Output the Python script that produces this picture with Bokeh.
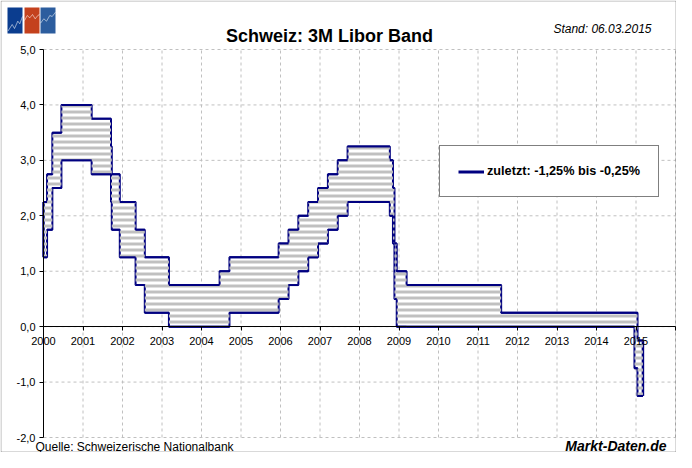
import pandas as pd
from bokeh.plotting import figure
from bokeh.models import (FixedTicker, Label, BoxAnnotation, PolyAnnotation, Legend,
                          LegendItem, Range1d, LinearAxis, ColumnDataSource)
from bokeh.embed import file_html
from bokeh.resources import INLINE

# ---------------- data ----------------
change_dates = ["2000-01-01", "2000-02-03", "2000-03-23", "2000-06-15", "2001-03-22",
                "2001-09-17", "2001-09-24", "2001-12-07", "2002-05-02", "2002-07-26",
                "2003-03-06", "2004-06-17", "2004-09-16", "2005-12-15", "2006-03-16",
                "2006-06-15", "2006-09-14", "2006-12-14", "2007-03-15", "2007-06-14",
                "2007-09-13", "2008-10-08", "2008-11-06", "2008-11-20", "2008-12-11",
                "2009-03-12", "2011-08-03", "2014-12-18", "2015-01-15", "2015-03-06"]
lower = [1.25, 1.75, 2.50, 3.00, 2.75, 2.25, 1.75, 1.25, 0.75, 0.25,
         0.00, 0.00, 0.25, 0.50, 0.75, 1.00, 1.25, 1.50, 1.75, 2.00,
         2.25, 2.00, 1.50, 0.50, 0.00, 0.00, 0.00, -0.75, -1.25, -1.25]
upper = [2.25, 2.75, 3.50, 4.00, 3.75, 3.25, 2.75, 2.25, 1.75, 1.25,
         0.75, 1.00, 1.25, 1.50, 1.75, 2.00, 2.25, 2.50, 2.75, 3.00,
         3.25, 3.00, 2.50, 1.50, 1.00, 0.75, 0.25, 0.25, -0.25, -0.25]

x_ticks = list(range(2000, 2017))
x_labels = [str(y) for y in range(2000, 2016)] + [""]
y_ticks = [-2, -1, 0, 1, 2, 3, 4, 5]
y_labels = ["-2,0", "-1,0", "0,0", "1,0", "2,0", "3,0", "4,0", "5,0"]

title_text = "Schweiz: 3M Libor Band"
stand_text = "Stand: 06.03.2015"
source_text = "Quelle: Schweizerische Nationalbank"
brand_text = "Markt-Daten.de"
legend_text = "zuletzt: -1,25% bis -0,25%"

NAVY = "#000080"
GREY = "#C0C0C0"
FONT = "Liberation Sans"

# ---------------- layout (pixels) ----------------
W, H = 676, 452
PX_L, PX_R = 43, 675      # x pixel of first / last x tick
PY_T, PY_B = 49, 437      # y pixel of top / bottom y tick
X0, X1 = x_ticks[0], x_ticks[-1]
Y0, Y1 = y_ticks[0], y_ticks[-1]
kx = (PX_R - PX_L) / (X1 - X0)
ky = (PY_B - PY_T) / (Y1 - Y0)
x_range = Range1d(X0 - PX_L / kx, X1 + (W - PX_R) / kx)
y_range = Range1d(Y0 - (H - PY_B) / ky, Y1 + PY_T / ky)


def decyear(s):
    d = pd.Timestamp(s)
    n = 366 if d.is_leap_year else 365
    return d.year + (d.dayofyear - 1) / n


xs = [decyear(s) for s in change_dates]
src = ColumnDataSource(dict(x=xs, lo=lower, up=upper))

p = figure(width=W, height=H, x_range=x_range, y_range=y_range,
           output_backend="svg", toolbar_location=None, min_border=0,
           x_axis_location=None, y_axis_location=None)
p.background_fill_color = "white"
p.border_fill_color = "white"
p.outline_line_color = None
for g in p.grid:
    g.visible = False

# grid lines (dashed), limited to the plot area
p.segment(x0=x_ticks[1:], x1=x_ticks[1:], y0=Y0, y1=Y1,
          line_color=GREY, line_dash="3 3", line_width=1)
p.segment(x0=X0, x1=X1, y0=y_ticks, y1=y_ticks,
          line_color=GREY, line_dash="3 3", line_width=1)


def style_axis(ax):
    ax.minor_tick_line_color = None
    ax.major_tick_in = 0
    ax.major_tick_out = 4
    ax.axis_line_color = "black"
    ax.major_tick_line_color = "black"
    ax.major_label_text_font = FONT
    ax.major_label_text_font_size = "11px"
    ax.major_label_text_color = "black"


ya = LinearAxis(fixed_location=X0, bounds=(Y0, Y1), ticker=FixedTicker(ticks=y_ticks),
                major_label_overrides=dict(zip(y_ticks, y_labels)))
style_axis(ya)
ya.major_label_standoff = 4
p.add_layout(ya, "left")

xa = LinearAxis(fixed_location=0, bounds=(X0, X1), ticker=FixedTicker(ticks=x_ticks),
                major_label_overrides=dict(zip(x_ticks, x_labels)))
style_axis(xa)
xa.major_label_standoff = 6
p.add_layout(xa, "below")

# band
p.varea_step(x="x", y1="lo", y2="up", step_mode="after", source=src,
             fill_color="white", fill_alpha=1)
p.step("x", "up", mode="after", source=src, line_color=NAVY, line_width=2)
p.step("x", "lo", mode="after", source=src, line_color=NAVY, line_width=2)
p.segment(x0=[xs[0], xs[-1]], x1=[xs[0], xs[-1]],
          y0=[lower[0], lower[-1]], y1=[upper[0], upper[-1]],
          line_color=NAVY, line_width=2.5)
p.varea_step(x="x", y1="lo", y2="up", step_mode="after", source=src,
             fill_alpha=0, hatch_pattern="horizontal_line", hatch_color=GREY,
             hatch_scale=6, hatch_weight=3)
p.segment(x0=xs[:-1], x1=xs[1:], y0=upper[:-1], y1=upper[:-1], line_color=NAVY, line_width=2)
p.segment(x0=xs[:-1], x1=xs[1:], y0=lower[:-1], y1=lower[:-1], line_color=NAVY, line_width=2)

# legend (renderer with a single point draws nothing, only feeds the legend glyph)
dummy = p.line(x=xs[:1], y=upper[:1], line_color=NAVY, line_width=3)
leg = Legend(items=[LegendItem(label=legend_text, renderers=[dummy])],
             location=(439, H - 197), padding=18, spacing=0, margin=0,
             glyph_width=26, glyph_height=13, label_height=13, label_standoff=3,
             label_text_font=FONT, label_text_font_style="bold",
             label_text_font_size="12.7px", label_text_color="black",
             border_line_color="black", border_line_width=1,
             background_fill_color="white", background_fill_alpha=1)
p.add_layout(leg)


# text: canvas pixel (from top-left) -> screen units (from bottom-left)
def fy(py):
    return H - py


def add_text(x, y, text, align, size, style="normal"):
    p.add_layout(Label(x=x, y=fy(y), x_units="screen", y_units="screen", text=text,
                       text_align=align, text_baseline="alphabetic", text_font=FONT,
                       text_font_size=size, text_font_style=style, text_color="black"))


add_text(329, 35, title_text, "center", "18px", "bold")
add_text(651, 28.5, stand_text, "right", "12px", "italic")
add_text(35, 446, source_text, "left", "12px")
add_text(666, 445, brand_text, "right", "14px", "bold italic")

# logo
squares = [(7, 22, "#0B3D8F"), (24, 39, "#C4411D"), (40, 55, "#2C5D9E")]
for l, r, c in squares:
    p.add_layout(BoxAnnotation(left=l, right=r, top=fy(7), bottom=fy(33),
                               left_units="screen", right_units="screen",
                               top_units="screen", bottom_units="screen",
                               fill_color=c, fill_alpha=1, line_color=None))
zigzags = [
    [(7.5, 30.5), (11.7, 24), (14, 28), (17.3, 20.7), (19.3, 23.3), (22, 16)],
    [(24, 20), (26.7, 15), (29.3, 17.3), (32, 14), (34.7, 18.3), (37.3, 15), (39, 14)],
    [(40, 22.7), (43.3, 18.3), (46, 20.7), (49.3, 15), (51.7, 16), (55, 11.7)],
]
for z in zigzags:
    pts = z + z[::-1]
    p.add_layout(PolyAnnotation(xs=[a for a, b in pts], ys=[fy(b) for a, b in pts],
                                xs_units="screen", ys_units="screen",
                                fill_alpha=0, line_color="white", line_width=1))

# outer border
p.add_layout(BoxAnnotation(left=0.5, right=W - 0.5, bottom=0.5, top=H - 0.5,
                           left_units="screen", right_units="screen",
                           top_units="screen", bottom_units="screen",
                           fill_alpha=0, line_color="black", line_width=1))

open("out.html", "w").write(file_html(p, INLINE))
